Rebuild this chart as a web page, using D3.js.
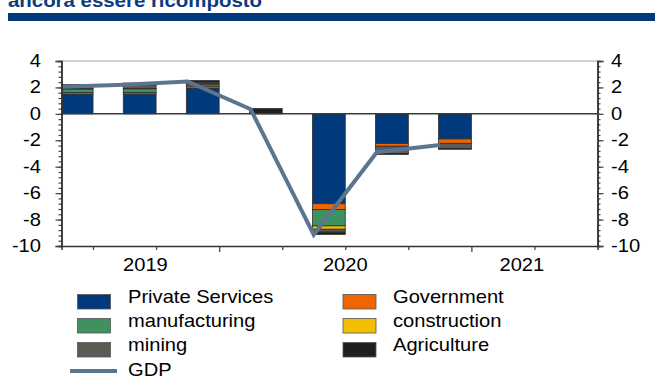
<!DOCTYPE html>
<html>
<head>
<meta charset="utf-8">
<script src="https://cdn.jsdelivr.net/npm/d3@7/dist/d3.min.js"></script>
<style>
  html, body { margin: 0; padding: 0; background: #fff; overflow: hidden; }
  svg { display: block; font-family: "Liberation Sans", Arial, sans-serif; }
</style>
</head>
<body>
<svg id="chart" width="655" height="376"></svg>
<script>
// Quarterly contributions to GDP growth by sector (percentage points)
const quarters = ["2019Q2", "2019Q3", "2019Q4", "2020Q1", "2020Q2", "2020Q3", "2020Q4"];
const sectors = ["Private Services", "Government", "manufacturing", "construction", "mining", "Agriculture"];
const privateServices = [1.50, 1.50, 1.95, 0.00, -6.80, -2.25, -1.90];
const government      = [0.12, 0.12, 0.15, 0.00, -0.45, -0.20, -0.33];
const manufacturing   = [0.26, 0.28, 0.15, 0.00, -1.23, 0.00, 0.00];
const construction    = [0.04, 0.03, 0.03, 0.00, -0.25, 0.00, 0.00];
const mining          = [0.22, 0.25, 0.12, 0.00, -0.22, -0.55, -0.40];
const agriculture     = [0.08, 0.15, 0.12, 0.40, -0.17, -0.07, -0.05];
const gdp             = [2.05, 2.20, 2.45, 0.35, -9.15, -2.90, -2.35];
const years = ["2019", "2020", "2021"];
const yTicks = [4, 2, 0, -2, -4, -6, -8, -10];

const sectorColors = {
  "Private Services": "#003a7d",
  "Government": "#ee6502",
  "manufacturing": "#3f925f",
  "construction": "#efbf00",
  "mining": "#5d5955",
  "Agriculture": "#1f1f1f"
};
const gdpColor = "#5b7490";

const svg = d3.select("#chart");
const FS = 17.5, SX = 1.15;

// text with a slight horizontal stretch
function label(g, str, x, yPos, anchor, extra) {
  const t = g.append("text")
    .attr("transform", `translate(${x},${yPos}) scale(${SX},1)`)
    .attr("text-anchor", anchor || "start")
    .attr("font-size", FS)
    .attr("fill", "#000")
    .text(str);
  if (extra) extra(t);
  return t;
}

// heading fragment and rule
svg.append("text")
  .attr("x", 8).attr("y", 7)
  .attr("font-size", 19).attr("font-weight", "bold")
  .attr("fill", "#0b3c7c")
  .attr("textLength", 254).attr("lengthAdjust", "spacingAndGlyphs")
  .text("ancora essere ricomposto");
svg.append("rect").attr("x", 8).attr("y", 13).attr("width", 647).attr("height", 8).attr("fill", "#003a7d");

// scales
const x = d3.scaleLinear().domain([0, 8.5]).range([61.5, 597.5]);
const y = d3.scaleLinear().domain([-10, 4]).range([246, 61]);
const step = x(1) - x(0);
const barW = step * 0.52;

// stacked data
const rows = quarters.map((q, i) => ({
  q, i,
  "Private Services": privateServices[i],
  "Government": government[i],
  "manufacturing": manufacturing[i],
  "construction": construction[i],
  "mining": mining[i],
  "Agriculture": agriculture[i]
}));
const series = d3.stack().keys(sectors).offset(d3.stackOffsetDiverging)(rows);

svg.append("defs").append("clipPath").attr("id", "plot")
  .append("rect").attr("x", x(0)).attr("y", y(4)).attr("width", x(8.5) - x(0)).attr("height", y(-10) - y(4));

// top border of the plot
svg.append("line").attr("x1", x(0)).attr("x2", x(8.5)).attr("y1", y(4)).attr("y2", y(4))
  .attr("stroke", "#a0a0a0").attr("stroke-width", 1);

const barsG = svg.append("g").attr("clip-path", "url(#plot)");
series.forEach(s => {
  barsG.selectAll(null).data(s.filter(d => d[1] !== d[0])).enter().append("rect")
    .attr("x", d => x(d.data.i + 0.5) - barW)
    .attr("width", barW)
    .attr("y", d => y(Math.max(d[0], d[1])))
    .attr("height", d => Math.abs(y(d[0]) - y(d[1])))
    .attr("fill", sectorColors[s.key])
    .attr("stroke", "#2e2e2e").attr("stroke-width", 0.8);
});

// zero line
svg.append("line").attr("x1", x(0)).attr("x2", x(8.5)).attr("y1", y(0)).attr("y2", y(0))
  .attr("stroke", "#3a3a3a").attr("stroke-width", 1.5);

// GDP line
const line = d3.line().x((d, i) => x(i)).y(d => y(d));
svg.append("path").datum(gdp).attr("d", line)
  .attr("fill", "none").attr("stroke", gdpColor).attr("stroke-width", 4).attr("stroke-linejoin", "miter");

// y axes (left and right)
const minorTicks = d3.range(-10, 4.001, 0.4);
const axisL = d3.axisLeft(y).tickValues(minorTicks).tickSize(3).tickFormat("");
const axisLMaj = d3.axisLeft(y).tickValues(yTicks).tickSize(6).tickFormat("");
const axisR = d3.axisRight(y).tickValues(minorTicks).tickSize(3).tickFormat("");
const axisRMaj = d3.axisRight(y).tickValues(yTicks).tickSize(6).tickFormat("");
[[axisL, x(0)], [axisLMaj, x(0)], [axisR, x(8.5)], [axisRMaj, x(8.5)]].forEach(([a, px]) => {
  const g = svg.append("g").attr("transform", `translate(${px},0)`).call(a);
  g.select(".domain").attr("stroke", "#333").attr("stroke-width", 1.5);
  g.selectAll(".tick line").attr("stroke", "#444").attr("stroke-width", 1.2);
});
const yl = svg.append("g");
yTicks.forEach(v => {
  label(yl, String(v), 41, y(v) + 6, "end");
  label(yl, String(v), 611, y(v) + 6, "start");
});

// x axis: quarter boundaries, longer at year boundaries
const qEdges = d3.range(0.5, 8.5, 1);
const yearEdges = [2.5, 6.5];
const xa = svg.append("g").attr("transform", `translate(0,${y(-10)})`)
  .call(d3.axisBottom(x).tickValues(qEdges).tickSize(4).tickFormat(""));
xa.select(".domain").attr("stroke", "#333").attr("stroke-width", 1.5);
xa.selectAll(".tick line").attr("stroke", "#444").attr("stroke-width", 1.3)
  .attr("y2", d => yearEdges.includes(d) ? 6 : 4);

// year labels
const yearPos = [1.33, 4.5, 7.3];
years.forEach((yr, k) => label(svg, yr, x(yearPos[k]), 271, "middle"));

// legend
const leg = svg.append("g");
const col1 = ["Private Services", "manufacturing", "mining"];
const col2 = ["Government", "construction", "Agriculture"];
const rowY = [294.5, 318.5, 342.5];
[[col1, 77.5, 128], [col2, 343, 393]].forEach(([items, sx, tx]) => {
  items.forEach((k, r) => {
    leg.append("rect").attr("x", sx).attr("y", rowY[r]).attr("width", 33).attr("height", 14.5)
      .attr("fill", sectorColors[k]).attr("stroke", "#555").attr("stroke-width", 0.8);
    label(leg, k, tx, rowY[r] + 8.5, "start");
  });
});
leg.append("line").attr("x1", 70).attr("x2", 117).attr("y1", 371).attr("y2", 371)
  .attr("stroke", gdpColor).attr("stroke-width", 4);
label(leg, "GDP", 128, 376, "start");
</script>
</body>
</html>
